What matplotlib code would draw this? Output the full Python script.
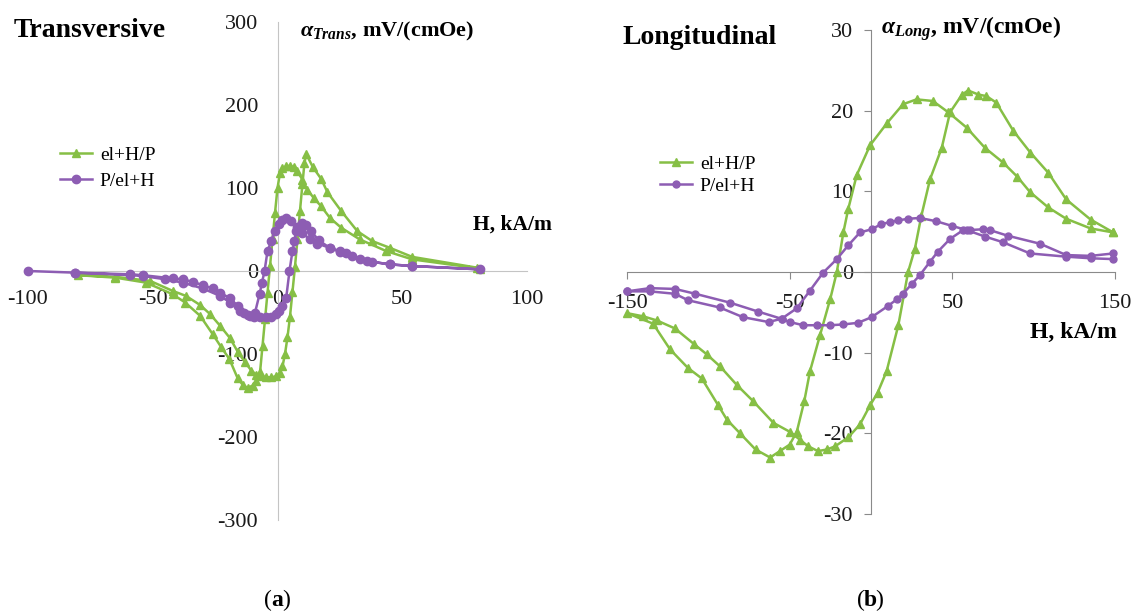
import matplotlib.pyplot as plt
from matplotlib import rc

rc('font', family='Liberation Serif', size=16)
rc('mathtext', fontset='custom', rm='Liberation Serif:bold',
   it='Liberation Serif:italic:bold', bf='Liberation Serif:bold')
rc('axes', unicode_minus=False)

GREEN = '#86BF45'
PURPLE = '#8D5DB3'

# (a) transversive, el+H/P : descending branch then ascending branch
trans_el_H = [80, 54, 45, 38, 32, 25.6, 20, 17.5, 14.2, 11.5,
              10.8, 10, 9, 8, 7, 6, 5, 4, 3, 2,
              1, -0.5, -2.5, -4.5, -6.5, -8.5, -10.5, -13, -16, -19,
              -23, -27, -31, -36.7, -42, -51, -65, -80,
              -65, -52.7, -42, -37, -31, -26, -22.5, -19.3, -16, -14,
              -12, -10, -8.5, -7, -6, -5, -4, -3, -2, -1,
              0, 1, 2, 3.5, 5, 6.5, 8, 10, 12, 14.5,
              17.5, 21, 25.6, 33, 43.6, 54, 81]
trans_el_a = [4, 17, 28, 36, 48, 72, 95, 111, 125, 141,
              130, 105, 72, 38, 5, -25, -55, -80, -100, -115,
              -123, -127, -128, -128, -127, -125, -120, -110, -97, -81,
              -66, -52, -41, -30, -24, -12, -7, -5,
              -8, -14, -28, -38, -54, -76, -92, -106, -129, -137,
              -141, -138, -132, -122, -90, -58, -26, 6, 38, 70,
              100, 118, 124, 126, 127, 125, 120, 110, 98, 88,
              78, 64, 52, 38, 24, 14, 3]

# (a) transversive, P/el+H : ascending branch then descending branch
trans_p_H = [-100, -81, -59, -54, -42, -38, -34, -30, -26, -23,
             -19, -16, -13.5, -11, -9, -7.2, -6.2, -5.2, -4, -2.5,
             -1.2, 0.8, 2, 3.5, 5.5, 8, 10, 12.9, 16, 20.9,
             25, 30, 36, 45, 54, 81,
             54, 45, 38, 33, 27.6, 24.9, 20.9, 16.5, 13.5,
             11.5, 10, 8.5, 7.5, 6.8, 6, 4.8, 3.5, 2, 0.8,
             -0.5, -2.5, -4.5, -7, -9.5, -12, -15, -19, -23, -30,
             -38, -45, -54, -59, -81]
trans_p_a = [0, -2, -4, -5, -9, -10, -13, -17, -21, -26,
             -33, -42, -50, -54, -50, -28, -14, 0, 24, 36,
             48, 57, 61, 64, 60, 53, 46, 38, 33, 28,
             23, 18, 12, 8, 6, 2,
             6, 8, 11, 14, 22, 24, 28, 37, 48,
             56, 58, 53, 48, 36, 24, 0, -32, -42, -48,
             -52, -55, -56, -56, -55, -53, -48, -38, -30, -21,
             -14, -10, -6, -5, -2]

# (b) longitudinal, el+H/P
long_el_H = [149, 135, 120, 109, 98, 87.5, 77, 71, 66, 59.7,
             56, 48.6, 43.5, 36.3, 31, 27, 22.8, 16.8, 9.6, 4,
             -0.5, -6.8, -14, -22, -27, -32.6, -38.7, -43.6, -50, -60,
             -72.5, -82.5, -92.8, -101, -109, -120.5, -131.7, -140, -150,
             -134, -123.5, -112.5, -104, -94, -88.6, -80.5, -71, -62, -56,
             -50, -45.6, -41, -37.5, -31.3, -25, -21, -17, -14, -8.8,
             -0.6, 10, 19.7, 28, 38, 47.5, 58.8, 70, 81, 90,
             97.8, 109, 120, 135, 149]
long_el_a = [4.9, 6.5, 9, 12.3, 14.8, 17.5, 21, 21.8, 22, 22.5,
             22, 19.8, 15.4, 11.5, 7, 2.9, 0, -6.6, -12.3, -15,
             -16.5, -18.9, -20.5, -21.6, -22, -22.2, -21.6, -20.8, -19.8, -18.7,
             -16, -14, -11.7, -10.2, -8.9, -7, -6, -5.5, -5.1,
             -6.4, -9.6, -11.9, -13.2, -16.5, -18.3, -20, -22, -23, -22.2,
             -21.4, -19.8, -16, -12.3, -7.8, -3.3, 0, 4.9, 7.8, 12,
             15.7, 18.5, 20.8, 21.4, 21.2, 19.8, 17.9, 15.4, 13.6, 11.8,
             9.9, 8, 6.6, 5.4, 4.9]

# (b) longitudinal, P/el+H
long_p_H = [-150, -136, -120.5, -112.5, -93, -78.7, -63, -55, -45.6, -37.5,
            -29.5, -21, -14, -6.8, 0.4, 6, 11.7, 16.6, 23, 30,
            40, 50, 58.8, 70, 81, 97.8, 120, 135, 149,
            149, 135, 120, 104, 84, 73, 69, 60.8, 56.7, 48.6,
            41, 36, 30, 25, 19.7, 15.8, 10.5, 0.4, -8, -17,
            -25, -33, -41.6, -50, -55, -69.5, -86.7, -108, -120.5, -136,
            -150]
long_p_a = [-2.4, -2.4, -2.7, -3.5, -4.4, -5.6, -6.2, -5.8, -4.5, -2.3,
            -0.1, 1.6, 3.3, 4.9, 5.3, 5.9, 6.2, 6.4, 6.6, 6.7,
            6.3, 5.7, 5.2, 4.4, 3.7, 2.3, 1.9, 1.7, 1.6,
            2.3, 2.0, 2.1, 3.5, 4.5, 5.2, 5.3, 5.2, 5.2, 4.1,
            2.5, 1.2, -0.4, -1.5, -2.7, -3.4, -4.2, -5.6, -6.3, -6.5,
            -6.6, -6.6, -6.6, -6.2, -5.8, -4.9, -3.8, -2.7, -2.1, -2.0,
            -2.4]

trans_xticks = [-100, -50, 0, 50, 100]
trans_yticks = [-300, -200, -100, 0, 100, 200, 300]
long_xticks = [-150, -50, 50, 150]
long_yticks = [-30, -20, -10, 0, 10, 20, 30]

W, H = 1137, 616
fig = plt.figure(figsize=(W / 100, H / 100), dpi=100)
ax1 = fig.add_axes([28 / W, 96 / H, 499 / W, 498 / H])
ax2 = fig.add_axes([627 / W, 102 / H, 488 / W, 484 / H])


def draw(ax, xs_el, ys_el, xs_p, ys_p, ms_tri, ms_dot):
    ax.plot(xs_el, ys_el, color=GREEN, lw=1.8, marker='^', ms=ms_tri,
            label='el+H/P', zorder=3, clip_on=False)
    ax.plot(xs_p, ys_p, color=PURPLE, lw=1.8, marker='o', ms=ms_dot,
            label='P/el+H', zorder=3, clip_on=False)
    for s in ['top', 'right']:
        ax.spines[s].set_visible(False)
    ax.spines['left'].set_position('zero')
    ax.spines['bottom'].set_position('zero')
    ax.patch.set_alpha(0)


draw(ax1, trans_el_H, trans_el_a, trans_p_H, trans_p_a, 6, 6)
ax1.set_xlim(-100, 100)
ax1.set_ylim(-300, 300)
ax1.set_xticks(trans_xticks)
ax1.set_yticks(trans_yticks)
for s in ['left', 'bottom']:
    ax1.spines[s].set_color('#c4c4c4')
ax1.tick_params(length=0, pad=14, labelsize=16, colors='#1a1a1a')

draw(ax2, long_el_H, long_el_a, long_p_H, long_p_a, 5.5, 5)
ax2.set_xlim(-150, 150)
ax2.set_ylim(-30, 30)
ax2.set_xticks(long_xticks)
ax2.set_yticks(long_yticks)
for s in ['left', 'bottom']:
    ax2.spines[s].set_color('#8a8a8a')
ax2.tick_params(axis='y', length=5, direction='out', pad=8, labelsize=16,
                color='#8a8a8a', labelcolor='#1a1a1a')
ax2.tick_params(axis='x', length=5, direction='out', pad=11, labelsize=16,
                color='#8a8a8a', labelcolor='#1a1a1a')

ax1.legend(loc='center left', bbox_to_anchor=(60 / W, 1 - 168 / H),
           bbox_transform=fig.transFigure, frameon=False, fontsize=14,
           borderpad=0, borderaxespad=0, handlelength=1.65,
           handletextpad=0.4, labelspacing=0.4)
ax2.legend(loc='center left', bbox_to_anchor=(660 / W, 1 - 175 / H),
           bbox_transform=fig.transFigure, frameon=False, fontsize=14,
           borderpad=0, borderaxespad=0, handlelength=1.65,
           handletextpad=0.4, labelspacing=0.25)

fig.text(14 / W, 1 - 37 / H, 'Transversive', fontsize=20, fontweight='bold')
fig.text(622 / W, 1 - 44 / H, 'Longitudinal', fontsize=20, fontweight='bold')
fig.text(300 / W, 1 - 36 / H, r'$\alpha_{Trans}$, mV/(cmOe)', fontsize=16,
         fontweight='bold')
fig.text(881 / W, 1 - 34 / H, r'$\alpha_{Long}$, mV/(cmOe)', fontsize=17,
         fontweight='bold')
fig.text(473 / W, 1 - 230 / H, 'H, kA/m', fontsize=15.5, fontweight='bold')
fig.text(1030 / W, 1 - 338 / H, 'H, kA/m', fontsize=17, fontweight='bold')

# panel letters: letter bold, parentheses regular
for cx, letter in [(277, 'a'), (870, 'b')]:
    fig.text((cx - 5.5) / W, 1 - 600 / H, '(', fontsize=17, ha='right',
             va='center')
    fig.text(cx / W, 1 - 600 / H, letter, fontsize=17, ha='center',
             va='center', fontweight='bold')
    fig.text((cx + 5.5) / W, 1 - 600 / H, ')', fontsize=17, ha='left',
             va='center')

fig.savefig('out.png', dpi=100)
